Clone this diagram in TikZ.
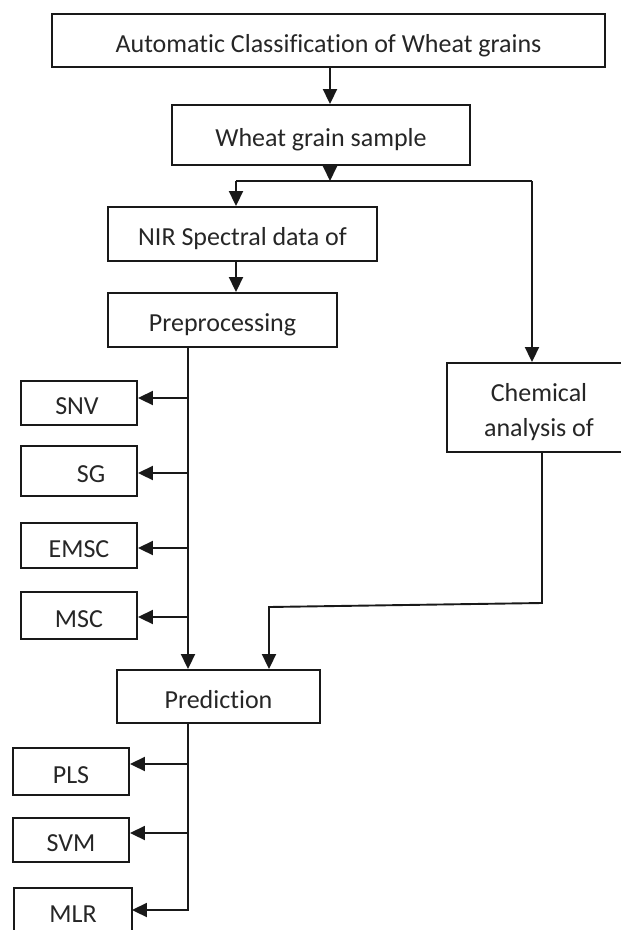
\documentclass[tikz,border=0pt]{standalone}
\usepackage{fontspec}
\setmainfont[Ligatures={NoCommon,NoContextual}]{Carlito}
\usetikzlibrary{arrows.meta}
\begin{document}
\begin{tikzpicture}[x=1pt,y=-1pt,
  box/.style={draw=black!90,line width=1.9pt,inner sep=0pt,text=black!85,
    font=\fontsize{26}{35}\selectfont,align=center,text height=26pt,text depth=3pt},
  link/.style={draw=black!90,line width=1.9pt},
  arr/.style={link,-{Triangle[length=15pt,width=14pt]}}]
\useasboundingbox (0,0) rectangle (621,930);
\clip (0,0) rectangle (621,930);
% boxes
\node[box,minimum width=553pt,minimum height=53pt] (top) at (328.5,40.5) {Automatic Classification of Wheat grains};
\node[box,minimum width=298pt,minimum height=60pt] (wheat) at (321,135) {Wheat grain sample};
\node[box,minimum width=269pt,minimum height=54pt] (nir) at (242.5,234) {NIR Spectral data of};
\node[box,minimum width=229pt,minimum height=54pt] (pre) at (222.5,320) {Preprocessing};
\node[box,minimum width=184pt,minimum height=89pt,text height=61pt] (chem) at (539,407.5) {Chemical\\analysis of};
\node[box,minimum width=116pt,minimum height=44pt] (snv) at (79,403) {\hspace{-4pt}SNV};
\node[box,minimum width=116pt,minimum height=50pt] (sg) at (79,471) {\hspace{24pt}SG};
\node[box,minimum width=116pt,minimum height=45pt] (emsc) at (79,545.5) {EMSC};
\node[box,minimum width=116pt,minimum height=47pt] (msc) at (79,615.5) {MSC};
\node[box,minimum width=203pt,minimum height=53pt] (pred) at (218.5,696.5) {Prediction};
\node[box,minimum width=116pt,minimum height=47pt] (pls) at (71,771.5) {PLS};
\node[box,minimum width=116pt,minimum height=44pt] (svm) at (71,840) {SVM};
\node[box,draw=none,minimum width=116pt,minimum height=41pt] (mlr) at (73,909.5) {\raisebox{-1.5pt}{MLR}};
\draw[link] (mlr.south west) -- (mlr.north west) -- (mlr.north east) -- (mlr.south east);
% helper coordinates
\coordinate (a1) at (330,0);
\coordinate (fk) at (330,181);
\coordinate (fl) at (236,181);
\coordinate (fr) at (532,181);
\coordinate (m) at (188,0);
\coordinate (b1) at (188,398);
\coordinate (b2) at (188,473);
\coordinate (b3) at (188,548);
\coordinate (b4) at (188,617);
\coordinate (c1) at (542,603);
\coordinate (c2) at (269,607);
\coordinate (p1) at (188,764);
\coordinate (p2) at (188,833);
\coordinate (p3) at (188,910);
% connectors
\draw[arr] (top.south -| a1) -- (wheat.north -| a1);
\draw[arr] (wheat.south -| fk) -- (fk);
\draw[link] (fl) -- (fr);
\draw[arr] (fl) -- (nir.north -| fl);
\draw[arr] (fr) -- (chem.north -| fr);
\draw[arr] (nir.south -| fl) -- (pre.north -| fl);
\draw[arr] (pre.south -| m) -- (pred.north -| m);
\draw[arr] (b1) -- (snv.east |- b1);
\draw[arr] (b2) -- (sg.east |- b2);
\draw[arr] (b3) -- (emsc.east |- b3);
\draw[arr] (b4) -- (msc.east |- b4);
\draw[arr] (chem.south -| c1) -- (c1) -- (c2) -- (pred.north -| c2);
\draw[arr] (pred.south -| p3) -- (p3) -- (mlr.east |- p3);
\draw[arr] (p1) -- (pls.east |- p1);
\draw[arr] (p2) -- (svm.east |- p2);
\end{tikzpicture}
\end{document}
